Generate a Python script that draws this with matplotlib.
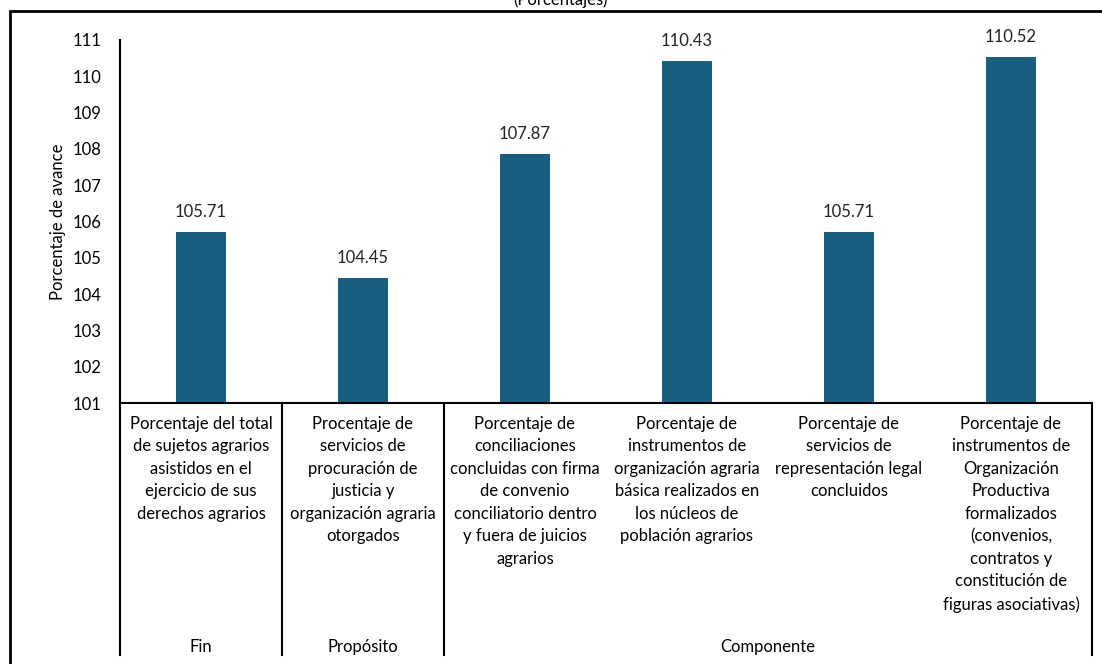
import matplotlib
matplotlib.use("Agg")
import matplotlib.pyplot as plt
from matplotlib.patches import Rectangle

plt.rcParams['font.family'] = ['Lato', 'DejaVu Sans']

indicadores = [
    "Porcentaje del total\nde sujetos agrarios\nasistidos en el\nejercicio de sus\nderechos agrarios",
    "Procentaje de\nservicios de\nprocuración de\njusticia y\norganización agraria\notorgados",
    "Porcentaje de\nconciliaciones\nconcluidas con firma\nde convenio\nconciliatorio dentro\ny fuera de juicios\nagrarios",
    "Porcentaje de\ninstrumentos de\norganización agraria\nbásica realizados en\nlos núcleos de\npoblación agrarios",
    "Porcentaje de\nservicios de\nrepresentación legal\nconcluidos",
    "Porcentaje de\ninstrumentos de\nOrganización\nProductiva\nformalizados\n(convenios,\ncontratos y\nconstitución de\nfiguras asociativas)",
]
avance = [105.71, 104.45, 107.87, 110.43, 105.71, 110.52]
niveles = ["Fin", "Propósito", "Componente"]
nivel_rango = [(0, 1), (1, 2), (2, 6)]
yticks = list(range(101, 112))

W, H = 1102, 664
fig = plt.figure(figsize=(W / 100, H / 100), dpi=100)
ax = fig.add_axes([120 / W, (H - 403) / H, (1092 - 120) / W, (403 - 40) / H])

color = "#175f80"
fs = 12
xs = list(range(len(avance)))
ax.bar(xs, [v - 101 for v in avance], bottom=101, width=0.31, color=color)
for x, v in zip(xs, avance):
    ax.text(x, v + 0.33, f"{v:.2f}", ha="center", va="bottom", fontsize=fs, color="#222222")

ax.set_xlim(-0.5, len(avance) - 0.5)
ax.set_ylim(101, 111)
ax.set_yticks(yticks)
ax.tick_params(axis="y", length=0, pad=13, labelsize=fs)
ax.set_xticks([])
ax.spines["top"].set_visible(False)
ax.spines["right"].set_visible(False)
ax.spines["left"].set_linewidth(1.5)
ax.spines["bottom"].set_linewidth(1.5)
ax.set_ylabel("Porcentaje de avance", fontsize=fs, labelpad=5)

trans = ax.get_xaxis_transform()
low = -0.694
for x, lbl in zip(xs, indicadores):
    ax.text(x, -0.035, lbl, transform=trans, ha="center", va="top",
            fontsize=fs, linespacing=1.5, multialignment="center")

edges = sorted({r[0] for r in nivel_rango} | {r[1] for r in nivel_rango})
for e in edges:
    ax.plot([e - 0.5, e - 0.5], [0, low], transform=trans, color="black", lw=1.5, clip_on=False)
for name, (a, b) in zip(niveles, nivel_rango):
    ax.text((a + b - 1) / 2, -0.671, name, transform=trans, ha="center", va="center", fontsize=fs)

fig.patches.append(Rectangle((10 / W, -0.1), 1.2, (H - 11) / H + 0.1, transform=fig.transFigure,
                             fill=False, edgecolor="black", lw=2))
fig.text(560 / W, 1.0, "(Porcentajes)", ha="center", va="center", fontsize=fs)

fig.savefig("out.png", dpi=100)
